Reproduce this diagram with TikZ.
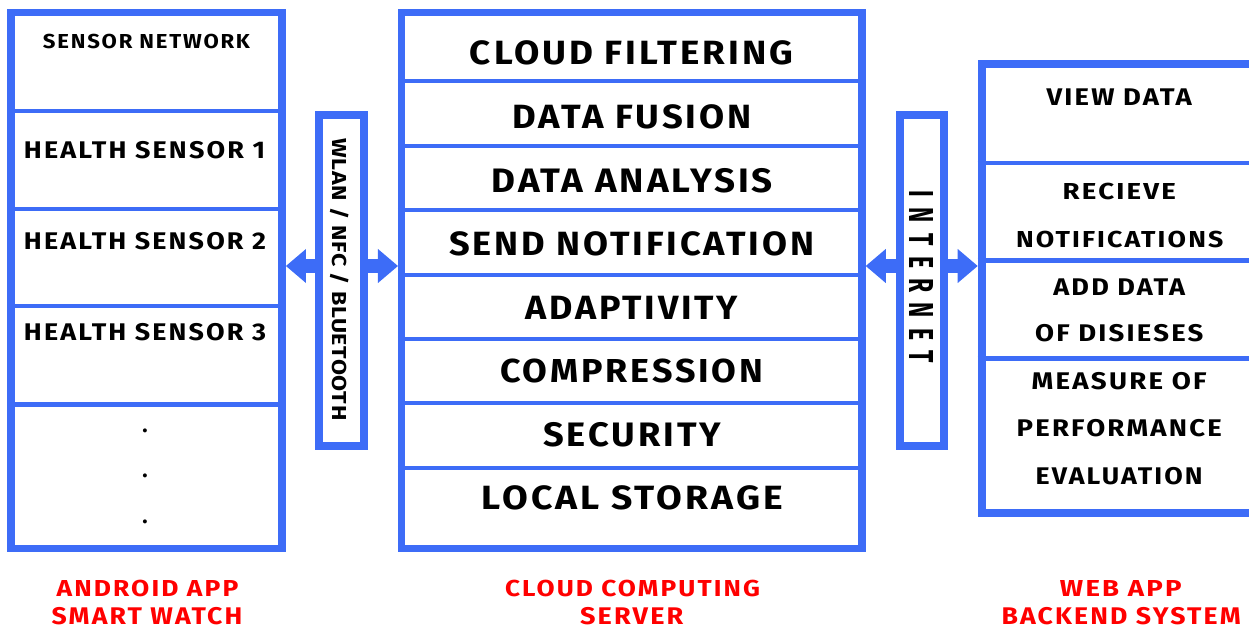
\documentclass[tikz,border=0pt]{standalone}
\usepackage{fontspec}
\setmainfont{Fira Sans}
\newfontfamily\labfont[LetterSpace=8]{Fira Sans}
\newfontfamily\tightfont[LetterSpace=3]{Fira Sans}
\usetikzlibrary{arrows.meta}
\definecolor{bblue}{RGB}{61,108,247}
\definecolor{rred}{RGB}{255,0,0}
\newcommand\fitt[3]{\resizebox{#1pt}{#2pt}{\labfont\bfseries\fontsize{20}{24}\selectfont\smash{#3}\rule{0pt}{\fontcharht\font`W}}}
\newcommand\fittight[3]{\resizebox{#1pt}{#2pt}{\tightfont\bfseries\fontsize{20}{24}\selectfont\smash{#3}\rule{0pt}{\fontcharht\font`W}}}
\tikzset{
  box/.style={draw=bblue, fill=white, inner sep=0pt},
  sepline/.style={draw=bblue, line width=4.5pt},
  lbl/.style={inner sep=0pt, text=black},
  redlbl/.style={inner sep=0pt, text=rred},
  conn/.style={draw=bblue, line width=14pt, -{Triangle[length=20pt,width=34pt,line width=0pt]}}
}
\begin{document}
\begin{tikzpicture}[x=1pt,y=-1pt]
\path[use as bounding box] (0,0) rectangle (1249,628);
% boxes
\node[box, line width=7.5pt, minimum width=271pt, minimum height=536.2pt] (left) at (146.7,280.4) {};
\node[box, line width=8pt, minimum width=44.6pt, minimum height=331pt] (wlan) at (341.5,280.5) {};
\node[box, line width=7.5pt, minimum width=460.3pt, minimum height=536.2pt] (mid) at (631.85,280.4) {};
\node[box, line width=8pt, minimum width=44pt, minimum height=331pt] (inet) at (922,280.5) {};
\node[box, line width=8pt, minimum width=270.8pt, minimum height=449.3pt] (right) at (1117.1,288.35) {};
% separators
\foreach \yy in {111,209,306.2,404.5} \draw[sepline] (left.west |- 0,\yy) -- (left.east |- 0,\yy);
\foreach \yy in {81,146,210,275,339,403,468} \draw[sepline] (mid.west |- 0,\yy) -- (mid.east |- 0,\yy);
\foreach \yy in {163,260.5,358.3} \draw[sepline] (right.west |- 0,\yy) -- (right.east |- 0,\yy);
% connectors
\coordinate (ay) at (0,266);
\draw[conn] (wlan.west |- ay) -- (left.east |- ay);
\draw[conn] (wlan.east |- ay) -- (mid.west |- ay);
\draw[conn] (inet.west |- ay) -- (mid.east |- ay);
\draw[conn] (inet.east |- ay) -- (right.west |- ay);
% left texts
\node[lbl] (t1) at (146.5,42) {\fitt{207}{14}{SENSOR NETWORK}};
\node[lbl] (t2) at (144.5,150) {\fitt{241}{16.7}{HEALTH SENSOR 1}};
\node[lbl] (t3) at (145,241.3) {\fitt{242}{16.7}{HEALTH SENSOR 2}};
\node[lbl] (t4) at (145,332.5) {\fitt{242}{16.7}{HEALTH SENSOR 3}};
\node[lbl] (d1) at (145,431) {\bfseries\fontsize{22}{22}\selectfont .};
\node[lbl] (d2) at (145,476) {\bfseries\fontsize{22}{22}\selectfont .};
\node[lbl] (d3) at (145,522) {\bfseries\fontsize{22}{22}\selectfont .};
% middle texts
\node[lbl] (m1) at (631.5,53.3) {\fitt{323}{23.3}{CLOUD FILTERING}};
\node[lbl] (m2) at (632.2,116.7) {\fitt{239}{23.3}{DATA FUSION}};
\node[lbl] (m3) at (632.2,180.3) {\fitt{281}{23.5}{DATA ANALYSIS}};
\node[lbl] (m4) at (631.7,244) {\fitt{364.7}{23.3}{SEND NOTIFICATION}};
\node[lbl] (m5) at (631.7,307.7) {\fitt{213}{23.3}{ADAPTIVITY}};
\node[lbl] (m6) at (631.7,371.3) {\fitt{263}{23}{COMPRESSION}};
\node[lbl] (m7) at (632.2,434.7) {\fitt{177.7}{23.5}{SECURITY}};
\node[lbl] (m8) at (632.2,498.3) {\fitt{301}{23.3}{LOCAL STORAGE}};
% right texts
\node[lbl] (r1) at (1119.2,96.7) {\fitt{145}{16.7}{VIEW DATA}};
\node[lbl] (r2) at (1119.3,191.3) {\fitt{113.3}{16}{RECIEVE}};
\node[lbl] (r3) at (1119.7,239.5) {\fitt{207.3}{16}{NOTIFICATIONS}};
\node[lbl] (r4) at (1119.2,286.7) {\fitt{131.7}{16.7}{ADD DATA}};
\node[lbl] (r5) at (1119.2,333.3) {\fitt{168.3}{16.7}{OF DISIESES}};
\node[lbl] (r6) at (1119.2,381) {\fitt{175}{16.7}{MEASURE OF}};
\node[lbl] (r7) at (1119.2,428.3) {\fitt{205}{16.7}{PERFORMANCE}};
\node[lbl] (r8) at (1119.2,476) {\fitt{167}{16.7}{EVALUATION}};
% rotated texts
\node[lbl, rotate=-90] (wt) at (339,279.5) {\fittight{282}{14}{WLAN / NFC / BLUETOOTH}};
\node[lbl, rotate=-90] (it) at (921,277) {\fitt{172}{24}{I\hspace{0.45em}N\hspace{0.45em}T\hspace{0.45em}E\hspace{0.45em}R\hspace{0.45em}N\hspace{0.45em}E\hspace{0.45em}T}};
% red captions
\node[redlbl] (c1) at (147.5,588) {\fitt{181.7}{16}{ANDROID APP}};
\node[redlbl] (c2) at (147,616) {\fitt{190.7}{16.7}{SMART WATCH}};
\node[redlbl] (c3) at (632.5,588) {\fitt{255}{16}{CLOUD COMPUTING}};
\node[redlbl] (c4) at (631.7,616) {\fitt{103.3}{16.7}{SERVER}};
\node[redlbl] (c5) at (1120.8,588) {\fitt{121.7}{16}{WEB APP}};
\node[redlbl] (c6) at (1121.2,616) {\fitt{239}{16.7}{BACKEND SYSTEM}};
\end{tikzpicture}
\end{document}
